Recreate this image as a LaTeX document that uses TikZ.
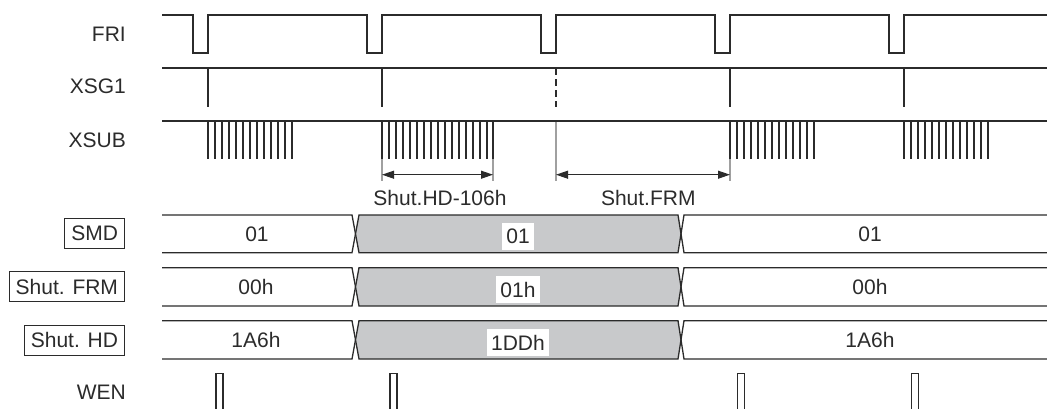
\documentclass[tikz,border=0pt]{standalone}
\usepackage{fontspec}
\setmainfont{Liberation Sans}
\usetikzlibrary{arrows.meta}
\definecolor{ln}{HTML}{2B2B2B}
\definecolor{busgray}{HTML}{C8C9CB}
\definecolor{extgray}{HTML}{A0A0A0}
\begin{document}
\begin{tikzpicture}[x=1pt,y=-1pt,
  wave/.style={draw=ln,line width=1.3pt,line join=miter},
  dimline/.style={draw=ln,line width=1pt,{Triangle[length=12pt,width=8pt]}-{Triangle[length=12pt,width=8pt]}},
  extline/.style={draw=extgray,line width=1.2pt},
  txt/.style={font=\fontsize{21}{25}\selectfont,text=ln,inner sep=0pt},
  siglabel/.style={txt,anchor=east},
  boxlabel/.style={txt,anchor=east,draw=ln,line width=1pt,fill=white,inner xsep=6.5pt,minimum height=30pt},
  valbox/.style={txt,fill=white,inner xsep=4pt,minimum height=27pt}]
\useasboundingbox (0,0) rectangle (1047,408);

% signal labels
\node[siglabel] (lfri) at (126,34.7) {FRI};
\node[siglabel] (lxsg) at (126,86.7) {XSG1};
\node[siglabel] (lxsub) at (126,140.5) {XSUB};
\node[siglabel] (lwen) at (126,392.5) {WEN};
\node[boxlabel] (lsmd) at (125,233) {SMD};
\node[boxlabel] (lfrm) at (125,286.7) {Shut. FRM};
\node[boxlabel] (lhd) at (125,340) {Shut. HD};

% FRI
\draw[wave] (162,15)
  -- (193,15) -- (193,53) -- (208,53) -- (208,15)
  -- (367,15) -- (367,53) -- (382,53) -- (382,15)
  -- (541,15) -- (541,53) -- (556,53) -- (556,15)
  -- (715,15) -- (715,53) -- (730,53) -- (730,15)
  -- (889,15) -- (889,53) -- (904,53) -- (904,15)
  -- (1047,15);

% XSG1
\draw[wave] (162,68) -- (1047,68);
\foreach \x in {208,382,730,904} \draw[wave] (\x,68) -- (\x,107);
\draw[wave,line width=1.1pt,dash pattern=on 7pt off 4pt] (556,68) -- (556,107);

% extension lines for dimensions
\coordinate (hdA) at (382,174.7);
\coordinate (hdB) at (493,174.7);
\coordinate (frA) at (556,174.7);
\coordinate (frB) at (730,174.7);
\draw[extline] (382,159) -- (382,181);
\draw[extline] (493,159) -- (493,181);
\draw[extline] (556,121) -- (556,181);
\draw[extline] (730,159) -- (730,181);

% XSUB
\draw[wave] (162,121) -- (1047,121);
\foreach \i in {0,...,12} \draw[wave,line width=1.4pt] ({208+\i*7},121) -- ({208+\i*7},159);
\foreach \i in {0,...,15} \draw[wave,line width=1.4pt] ({382+\i*7},121) -- ({382+\i*7},159);
\draw[wave,line width=1.4pt] (493,121) -- (493,159);
\foreach \i in {0,...,12} \draw[wave,line width=1.4pt] ({730+\i*7},121) -- ({730+\i*7},159);
\foreach \i in {0,...,12} \draw[wave,line width=1.4pt] ({904+\i*7},121) -- ({904+\i*7},159);

% dimension arrows
\draw[dimline] (hdA) -- (hdB);
\draw[dimline] (frA) -- (frB);
\node[txt] (thd) at (440,197.5) {Shut.HD-106h};
\node[txt] (tfr) at (648.3,197.5) {Shut.FRM};

% bus rows
\foreach \t/\b/\nm in {215/252.7/smd, 267.7/306/frm, 320.7/359/hd}{
  \pgfmathsetmacro{\m}{(\t+\b)/2}
  \draw[wave] (162,\t) -- (352,\t) -- (355.5,\m) -- (352,\b) -- (162,\b);
  \draw[wave,fill=busgray] (359,\t) -- (678,\t) -- (681,\m) -- (678,\b) -- (359,\b) -- (355.5,\m) -- cycle;
  \draw[wave] (1047,\t) -- (684,\t) -- (681,\m) -- (684,\b) -- (1047,\b);
}

% bus values
\node[txt] (smd1) at (257,234) {01};
\node[valbox] (smd2) at (518,236.3) {01};
\node[txt] (smd3) at (870,234) {01};
\node[txt] (frm1) at (256,287) {00h};
\node[valbox] (frm2) at (518,289.7) {01h};
\node[txt] (frm3) at (870,287) {00h};
\node[txt] (hd1) at (256,340) {1A6h};
\node[valbox] (hd2) at (518,342.7) {1DDh};
\node[txt] (hd3) at (870,340) {1A6h};

% WEN
\foreach \x in {216,390,737.5,911.5}
  \draw[wave,line width=1.3pt] (\x,410) -- (\x,373.5) -- (\x+7,373.5) -- (\x+7,410);
\end{tikzpicture}
\end{document}
